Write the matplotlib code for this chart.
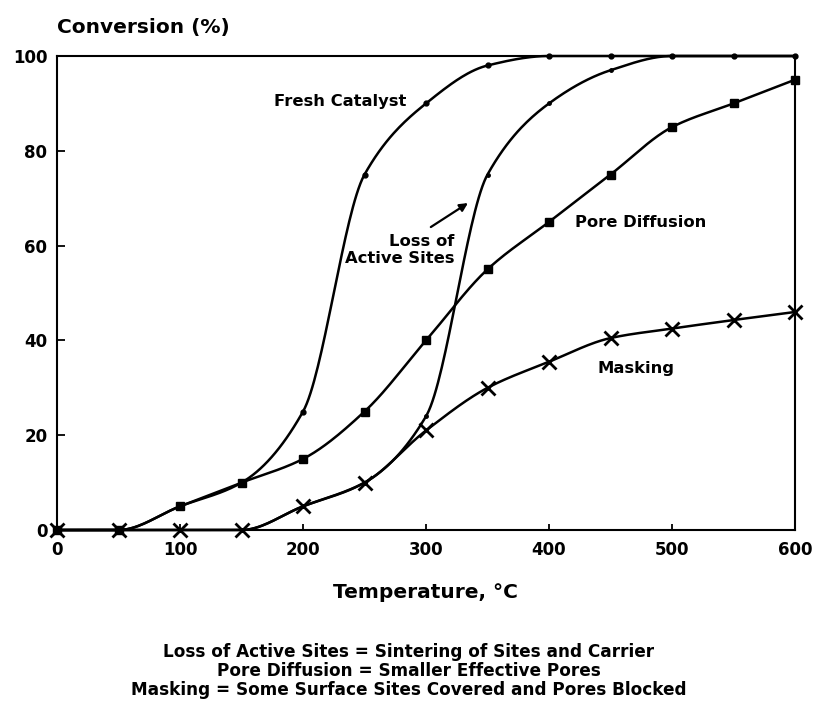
import numpy as np
from matplotlib import pyplot as plt

# temperatures (deg C) where the points were measured
temps = [0, 50, 100, 150, 200, 250, 300, 350, 400, 450, 500, 550, 600]

# conversion (%) for each catalyst state
fresh = [0, 0, 5, 10, 25, 75, 90, 98, 100, 100, 100, 100, 100]
loss_sites = [0, 0, 0, 0, 5, 10, 24, 75, 90, 97, 100, 100, 100]
pore_diff = [0, 0, 5, 10, 15, 25, 40, 55, 65, 75, 85, 90, 95]
masking = [0, 0, 0, 0, 5, 10, 21, 30, 35.5, 40.5, 42.5, 44.3, 46]

y_ticks = [0, 20, 40, 60, 80, 100]
x_ticks = [0, 100, 200, 300, 400, 500, 600]

footer = ['Loss of Active Sites = Sintering of Sites and Carrier',
          'Pore Diffusion = Smaller Effective Pores',
          'Masking = Some Surface Sites Covered and Pores Blocked']

FONT = 'DejaVu Sans'


def smooth(x, y, n=400):
    #monotone cubic (pchip) so the drawn line bends like the hand drawn one
    x = np.asarray(x, float)
    y = np.asarray(y, float)
    h = np.diff(x)
    d = np.diff(y) / h
    m = np.zeros_like(y)
    for k in range(1, len(x) - 1):
        if d[k - 1] * d[k] > 0:
            w1 = 2 * h[k] + h[k - 1]
            w2 = h[k] + 2 * h[k - 1]
            m[k] = (w1 + w2) / (w1 / d[k - 1] + w2 / d[k])
    m[0] = d[0] if d[0] * d[min(1, len(d) - 1)] > 0 else 0
    m[-1] = d[-1] if d[-1] * d[-2] > 0 else 0
    xs = np.linspace(x[0], x[-1], n)
    idx = np.clip(np.searchsorted(x, xs) - 1, 0, len(x) - 2)
    t = (xs - x[idx]) / h[idx]
    h00 = 2 * t**3 - 3 * t**2 + 1
    h10 = t**3 - 2 * t**2 + t
    h01 = -2 * t**3 + 3 * t**2
    h11 = t**3 - t**2
    ys = h00 * y[idx] + h10 * h[idx] * m[idx] + h01 * y[idx + 1] + h11 * h[idx] * m[idx + 1]
    return xs, ys


fig = plt.figure(figsize=(8.16, 7.01), dpi=100)
ax = fig.add_axes([0.0699, 0.2439, 0.9044, 0.6762])

lw = 1.8
for ys, mk, ms, mew in [(fresh, 'o', 3.5, 1), (loss_sites, 'o', 2.5, 1),
                        (pore_diff, 's', 6, 1), (masking, 'x', 10, 2)]:
    sx, sy = smooth(temps, ys)
    ax.plot(sx, sy, color='black', lw=lw, solid_capstyle='round', clip_on=False)
    ax.plot(temps, ys, ls='none', marker=mk, ms=ms, mew=mew,
            color='black', clip_on=False)

ax.set_xlim(0, 600)
ax.set_ylim(0, 100)
ax.set_xticks(x_ticks)
ax.set_yticks(y_ticks)
ax.set_xticklabels([str(v) for v in x_ticks], fontfamily=FONT,
                   fontweight='bold', fontsize=12)
ax.set_yticklabels([str(v) for v in y_ticks], fontfamily=FONT,
                   fontweight='bold', fontsize=12)
ax.tick_params(axis='y', direction='in', length=6, width=1.3, pad=7)
ax.tick_params(axis='x', direction='in', length=4, width=1.3, pad=8)
for s in ax.spines.values():
    s.set_linewidth(1.5)

bold = dict(fontfamily=FONT, fontweight='bold', color='black')

#curve labels
ax.text(176, 90.3, 'Fresh Catalyst', ha='left', va='center', fontsize=11.8, **bold)
ax.text(323, 59, 'Loss of\nActive Sites', ha='right', va='center',
        multialignment='right', fontsize=11.8, linespacing=1.15, **bold)
ax.annotate('', xy=(336, 69.3), xytext=(302, 63.6),
            arrowprops=dict(arrowstyle='-|>', color='black', lw=1.6,
                            mutation_scale=12))
ax.text(421, 64.8, 'Pore Diffusion', ha='left', va='center', fontsize=11.8, **bold)
ax.text(439, 34, 'Masking', ha='left', va='center', fontsize=11.8, **bold)

#axis titles
fig.text(57 / 816, 1 - 27 / 701, 'Conversion (%)', ha='left', va='center',
         fontsize=14.5, **bold)
fig.text(425 / 816, 1 - 592 / 701, 'Temperature, \u00b0C', ha='center',
         va='center', fontsize=14.5, **bold)

#definitions under the chart
for i, line in enumerate(footer):
    fig.text(409 / 816, 1 - (652 + 19 * i) / 701, line, ha='center',
             va='center', fontsize=12.2, **bold)

plt.savefig('out.png', dpi=100)
